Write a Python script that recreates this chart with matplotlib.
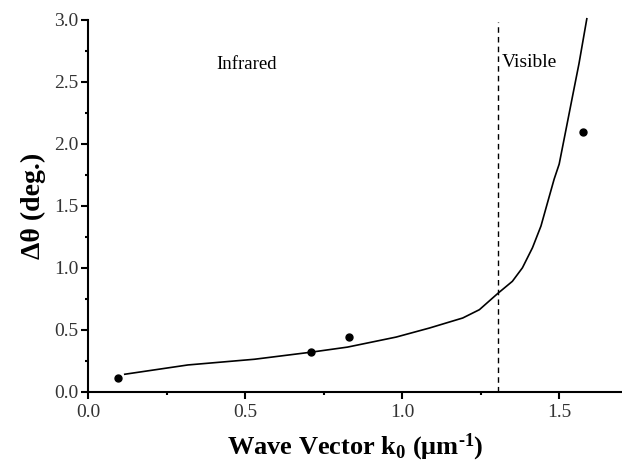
import numpy as np
import matplotlib
matplotlib.use("Agg")
import matplotlib.pyplot as plt
from matplotlib.ticker import MultipleLocator

# fonte serifada parecida com Times
plt.rcParams['font.family'] = ['Liberation Serif', 'DejaVu Serif']
plt.rcParams['mathtext.fontset'] = 'custom'
plt.rcParams['mathtext.rm'] = 'Liberation Serif:bold'
plt.rcParams['mathtext.it'] = 'Liberation Serif:italic:bold'
plt.rcParams['mathtext.bf'] = 'Liberation Serif:bold'

# pontos experimentais
k_exp = [0.094, 0.711, 0.830, 1.576]
dtheta_exp = [0.113, 0.319, 0.438, 2.094]

# curva teórica
k_teo = [0.117, 0.318, 0.530, 0.710, 0.826, 0.981, 1.087, 1.193, 1.246,
         1.304, 1.351, 1.383, 1.415, 1.442, 1.463, 1.484, 1.500, 1.521,
         1.542, 1.563, 1.588]
dtheta_teo = [0.141, 0.216, 0.262, 0.319, 0.360, 0.441, 0.514, 0.595, 0.662,
              0.792, 0.891, 1.000, 1.162, 1.337, 1.527, 1.716, 1.837, 2.107,
              2.378, 2.647, 3.010]

# limite entre infravermelho e visível
k_limite = 1.306

fig = plt.figure(figsize=(6.22, 4.65), dpi=100)
ax = fig.add_axes([0.1415, 0.1576, 0.8585, 0.7994])

ax.plot(k_teo, dtheta_teo, color='black', linewidth=1.2, clip_on=False)
ax.plot(k_exp, dtheta_exp, 'o', color='black', markersize=5)
ax.plot([k_limite, k_limite], [0, 2.98], color='black', linestyle=(0, (4, 3)), linewidth=1)

ax.text(0.41, 2.64, 'Infrared', fontsize=13.5, va='center')
ax.text(1.317, 2.66, 'Visible', fontsize=14, va='center')

ax.set_xlim(0, 1.7)
ax.set_ylim(0, 3.0)
ax.xaxis.set_major_locator(MultipleLocator(0.5))
ax.xaxis.set_minor_locator(MultipleLocator(0.25))
ax.yaxis.set_major_locator(MultipleLocator(0.5))
ax.yaxis.set_minor_locator(MultipleLocator(0.25))
ax.xaxis.set_major_formatter(plt.FormatStrFormatter('%.1f'))
ax.yaxis.set_major_formatter(plt.FormatStrFormatter('%.1f'))

for lado in ['top', 'right']:
    ax.spines[lado].set_visible(False)
for lado in ['left', 'bottom']:
    ax.spines[lado].set_linewidth(1.5)

ax.tick_params(which='major', direction='out', length=5, width=1.5, labelsize=14, colors='black')
ax.tick_params(which='minor', direction='out', length=2.5, width=1.5)
ax.tick_params(axis='y', pad=2)
for lbl in ax.get_xticklabels() + ax.get_yticklabels():
    lbl.set_color('#333333')

ax.set_xlabel(r'Wave Vector k$_0$ (μm$^{\text{-1}}$)', fontsize=19, fontweight='bold', labelpad=8)
ax.set_ylabel('Δθ (deg.)', fontsize=20, fontweight='bold', labelpad=6)

plt.savefig('out.png', dpi=100)
